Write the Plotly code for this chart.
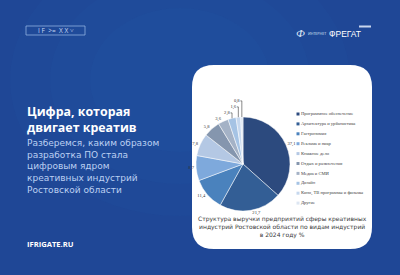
import plotly.graph_objects as go

categories = ["Программное обеспечение", "Архитектура и урбанистика", "Гастрономия",
              "Реклама и пиар", "Книжное дело", "Отдых и развлечения", "Медиа и СМИ",
              "Дизайн", "Кино, ТВ программы и фильмы", "Другие"]
values = [37.1, 21.7, 11.4, 8.7, 7.8, 5.8, 3.6, 2.8, 1.6, 0.8]
colors = ["#2c4a7e", "#335e95", "#4a82bd", "#7ea9dc", "#b4c8e4",
          "#8596ae", "#a4b2c6", "#a5c3e4", "#c6d8ee", "#dde6f2"]
value_labels = [f"{v:.1f}".replace(".", ",") for v in values]

title_lines = ["Цифра, которая", "двигает креатив"]
subtitle_lines = ["Разберемся, каким образом", "разработка ПО стала", "цифровым ядром",
                  "креативных индустрий", "Ростовской области"]
caption_lines = ["Структура выручки предприятий сферы креативных",
                 "индустрий Ростовской области по видам индустрий",
                 "в 2024 году %"]

W, H = 400, 275
fig = go.Figure()

cx, cy, R = 243, 164, 47
fig.add_trace(go.Pie(
    labels=categories, values=values, sort=False, direction="clockwise", rotation=0,
    marker=dict(colors=colors, line=dict(color="white", width=0.5)),
    text=value_labels, textinfo="text", textposition="outside",
    textfont=dict(family="Liberation Serif", size=4.6, color="#333333"),
    domain=dict(x=[(cx - R) / W, (cx + R) / W], y=[1 - (cy + R) / H, 1 - (cy - R) / H]),
    showlegend=False, hoverinfo="skip",
))

ly0, ldy = 114, 9.9
fig.add_trace(go.Scatter(
    x=[298] * len(categories), y=[ly0 + i * ldy for i in range(len(categories))],
    mode="markers+text", text=categories, textposition="middle right",
    marker=dict(symbol="square", size=3, color=colors),
    textfont=dict(family="Liberation Serif", size=4.6, color="#444444"),
    showlegend=False, hoverinfo="skip", cliponaxis=False,
))

x0, x1, y0, y1, r = 192, 372, 65, 249, 22
path = (f"M{x0+r},{y0} L{x1-r},{y0} Q{x1},{y0} {x1},{y0+r} L{x1},{y1-r} Q{x1},{y1} {x1-r},{y1} "
        f"L{x0+r},{y1} Q{x0},{y1} {x0},{y1-r} L{x0},{y0+r} Q{x0},{y0} {x0+r},{y0} Z")
shapes = []
for rr, op in [(170, 0.05), (130, 0.05), (90, 0.05)]:
    shapes.append(dict(type="circle", xref="x", yref="y", x0=180 - rr, x1=180 + rr,
                       y0=80 - rr * 0.8, y1=80 + rr * 0.8, fillcolor="#2a72c4",
                       opacity=op, line=dict(width=0), layer="below"))
shapes.append(dict(type="path", xref="x", yref="y", path=path, fillcolor="white",
                   line=dict(width=0), layer="below"))
shapes.append(dict(type="rect", xref="x", yref="y", x0=26, x1=85, y0=26, y1=35,
                   line=dict(color="#8fb0e0", width=0.8), fillcolor="rgba(0,0,0,0)"))
shapes.append(dict(type="rect", xref="x", yref="y", x0=359, x1=371, y0=25.5, y1=27.5,
                   line=dict(width=0), fillcolor="#c9d6ee"))

ann = []
def txt(x, y, s, size, color, family="Open Sans", xanchor="left", bold=False, align="left"):
    ann.append(dict(x=x, y=y, xref="x", yref="y", text=f"<b>{s}</b>" if bold else s,
                    showarrow=False, xanchor=xanchor, yanchor="middle", align=align,
                    font=dict(family=family, size=size, color=color)))

txt(55.5, 30.5, "I F  >=  X X ˅", 6.5, "#c9d8f2", xanchor="center")
txt(300, 33, "<i>Ф</i>", 11, "#dce6f6", family="Liberation Serif", xanchor="center")
txt(306, 33, "ИНТЕРНЕТ", 3.6, "#dce6f6")
txt(327, 34, "ФРЕГАТ", 8.5, "#ffffff", family="Liberation Sans")

txt(25, 119, "<br>".join(title_lines), 12.4, "#ffffff", bold=True)
txt(25, 166, "<br>".join(subtitle_lines), 9.0, "#bcd0f2", family="DejaVu Sans")
txt(25, 244, "IFRIGATE.RU", 7.6, "#ffffff", bold=True)
txt(282, 227, "<br>".join(caption_lines), 6.0, "#3a3a3a", family="DejaVu Sans",
    xanchor="center", align="center")

fig.update_layout(
    width=W, height=H, margin=dict(l=0, r=0, t=0, b=0),
    paper_bgcolor="#1f4796", plot_bgcolor="rgba(0,0,0,0)",
    xaxis=dict(range=[0, W], visible=False, fixedrange=True, domain=[0, 1]),
    yaxis=dict(range=[H, 0], visible=False, fixedrange=True, domain=[0, 1]),
    shapes=shapes, annotations=ann, showlegend=False,
)
fig.write_html("out.html")
